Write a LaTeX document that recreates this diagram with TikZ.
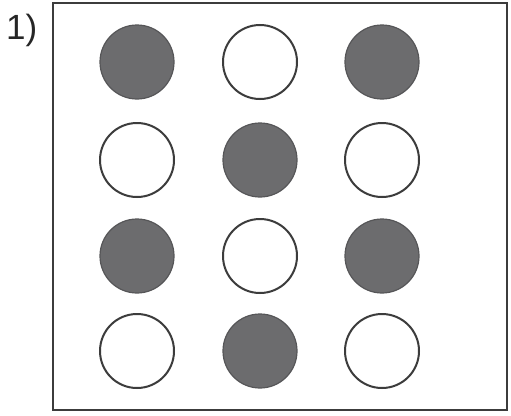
\documentclass[tikz,border=0pt]{standalone}
\usepackage{fontspec}
\setmainfont{Liberation Sans}
\definecolor{dotgray}{RGB}{108,108,110}
\definecolor{linegray}{RGB}{60,60,60}
\begin{document}
\begin{tikzpicture}[x=1pt,y=-1pt,
  filled/.style={circle,draw=dotgray!80!black,line width=1.2pt,fill=dotgray,minimum size=74pt,inner sep=0pt},
  empty/.style={circle,draw=linegray,line width=2pt,fill=white,minimum size=74pt,inner sep=0pt},
  frame/.style={draw=linegray,line width=2pt}]
\useasboundingbox (0,0) rectangle (511,415);
\node[font=\fontsize{35}{35}\selectfont,anchor=base west,inner sep=0pt,text=black!85] (lbl) at (6,39) {1)};
\draw[frame] (53,3) rectangle (507,410);
\node[filled] (a1) at (137,62) {};
\node[empty]  (a2) at (260,62) {};
\node[filled] (a3) at (382,62) {};
\node[empty]  (b1) at (137,160) {};
\node[filled] (b2) at (260,160) {};
\node[empty]  (b3) at (382,160) {};
\node[filled] (c1) at (137,256) {};
\node[empty]  (c2) at (260,256) {};
\node[filled] (c3) at (382,256) {};
\node[empty]  (d1) at (137,351) {};
\node[filled] (d2) at (260,351) {};
\node[empty]  (d3) at (382,351) {};
\end{tikzpicture}
\end{document}
